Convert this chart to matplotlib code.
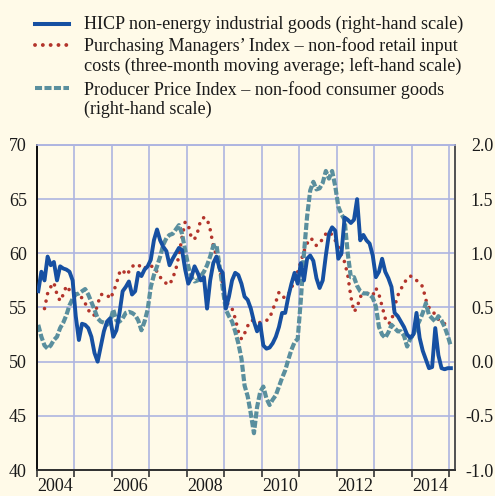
import numpy as np
import pandas as pd
import matplotlib
matplotlib.use("Agg")
import matplotlib.pyplot as plt
from matplotlib.lines import Line2D

plt.rcParams["font.family"] = ["Liberation Serif", "DejaVu Serif"]

# monthly data, Jan 2004 - Jan 2015
months = pd.date_range("2004-01-01", periods=133, freq="MS")

# HICP non-energy industrial goods (annual % change, right-hand scale)
hicp_neig = [
    0.65, 0.83, 0.75, 0.97, 0.89, 0.92, 0.75, 0.88, 0.86, 0.85, 0.83, 0.75,
    0.42, 0.20, 0.35, 0.34, 0.31, 0.23, 0.08, 0.00, 0.14, 0.28, 0.37, 0.40,
    0.23, 0.29, 0.45, 0.65, 0.69, 0.74, 0.62, 0.65, 0.82, 0.79, 0.85, 0.88,
    0.94, 1.12, 1.22, 1.12, 1.06, 1.02, 0.89, 0.95, 1.00, 1.05, 1.03, 0.85,
    0.72, 0.78, 0.88, 0.82, 0.75, 0.78, 0.49, 0.75, 0.91, 0.97, 0.86, 0.82,
    0.49, 0.60, 0.75, 0.82, 0.80, 0.72, 0.60, 0.57, 0.49, 0.37, 0.28, 0.35,
    0.15, 0.12, 0.13, 0.17, 0.23, 0.32, 0.45, 0.45, 0.60, 0.72, 0.82, 0.72,
    0.91, 0.75, 0.95, 0.98, 0.93, 0.77, 0.68, 0.75, 0.98, 1.18, 1.24, 1.21,
    0.95, 1.00, 1.33, 1.31, 1.28, 1.31, 1.50, 1.12, 1.17, 1.12, 1.09, 0.98,
    0.78, 0.83, 0.95, 0.83, 0.77, 0.69, 0.45, 0.42, 0.37, 0.32, 0.25, 0.22,
    0.25, 0.45, 0.22, 0.10, 0.02, -0.06, -0.05, 0.31, 0.06, -0.06, -0.07, -0.06, -0.06,
]

# PMI non-food retail input costs, 3-month moving average (left-hand scale)
pmi_retail = [
    np.nan, np.nan, 54.9, 56.3, 56.9, 57.3, 56.2, 55.6, 56.2, 57.0, 56.6, 56.5,
    56.2, 56.0, 55.9, 55.4, 54.8, 54.3, 54.3, 55.3, 56.2, 56.2, 56.2, 55.8,
    56.4, 57.2, 58.2, 58.5, 58.0, 58.3, 58.8, 58.9, 59.0, 58.6, 58.6, 58.9,
    58.8, 58.8, 58.3, 57.8, 57.5, 57.2, 57.1, 57.7, 58.5, 59.8, 61.5, 62.9,
    62.6, 61.4, 61.3, 62.0, 63.1, 63.3, 63.2, 62.2, 60.7, 59.8, 58.6, 57.2,
    55.7, 55.1, 54.9, 54.0, 52.8, 52.1, 52.6, 53.3, 53.8, 53.8, 53.7, 53.6,
    53.7, 53.8, 54.0, 54.8, 55.5, 56.4, 56.0, 55.9, 56.2, 56.8, 57.5, 58.3,
    59.2, 60.2, 60.9, 61.4, 61.2, 60.7, 61.0, 61.3, 61.8, 62.0, 61.7, 61.2,
    60.6, 59.8, 59.2, 58.0, 56.0, 54.6, 55.0, 56.0, 56.2, 56.3, 56.3, 56.1,
    56.8, 56.2, 55.1, 54.0, 53.5, 53.7, 55.1, 56.1, 56.7, 57.2, 57.7, 57.9,
    57.8, 57.5, 57.3, 56.9, 55.7, 55.0, 54.6, 54.4, 53.9, 53.7, 53.5, 53.4, 53.2,
]

# PPI non-food consumer goods (annual % change, right-hand scale)
ppi_nonfood = [
    0.34, 0.23, 0.15, 0.12, 0.15, 0.20, 0.23, 0.31, 0.36, 0.43, 0.52, 0.58,
    0.62, 0.63, 0.65, 0.67, 0.62, 0.55, 0.48, 0.40, 0.37, 0.36, 0.34, 0.37,
    0.48, 0.38, 0.37, 0.40, 0.45, 0.46, 0.45, 0.43, 0.38, 0.29, 0.37, 0.48,
    0.69, 0.80, 0.88, 0.97, 1.08, 1.14, 1.17, 1.18, 1.22, 1.26, 1.18, 1.03,
    0.88, 0.78, 0.74, 0.75, 0.79, 0.83, 0.89, 0.97, 1.07, 1.08, 0.88, 0.68,
    0.48, 0.42, 0.37, 0.28, 0.17, 0.03, -0.22, -0.32, -0.48, -0.66, -0.42, -0.28,
    -0.23, -0.34, -0.40, -0.35, -0.31, -0.23, -0.15, -0.08, 0.02, 0.11, 0.18, 0.21,
    0.57, 1.00, 1.34, 1.58, 1.66, 1.59, 1.60, 1.65, 1.76, 1.69, 1.76, 1.62,
    1.43, 1.36, 1.31, 1.00, 0.78, 0.78, 0.70, 0.65, 0.63, 0.63, 0.62, 0.59,
    0.51, 0.32, 0.25, 0.22, 0.27, 0.34, 0.31, 0.28, 0.28, 0.24, 0.14, 0.21,
    0.25, 0.32, 0.38, 0.45, 0.54, 0.43, 0.40, 0.37, 0.42, 0.38, 0.32, 0.24, 0.14,
]

labels = [
    "HICP non-energy industrial goods (right-hand scale)",
    "Purchasing Managers\u2019 Index \u2013 non-food retail input\ncosts (three-month moving average; left-hand scale)",
    "Producer Price Index \u2013 non-food consumer goods\n(right-hand scale)",
]
year_labels = ["2004", "2006", "2008", "2010", "2012", "2014"]

# decimal year, plotted mid-month
x = months.year + (months.month - 0.5) / 12

BG = "#FFFAE8"
BLUE = "#1650A2"
RED = "#B3342B"
TEAL = "#5A8F9E"
GRID = "#AEB5E0"

fig = plt.figure(figsize=(4.95, 4.96), dpi=100, facecolor=BG)
ax = fig.add_axes([0.0741, 0.0524, 0.845, 0.6553], facecolor=BG)
ax2 = ax.twinx()

ax.plot(x, np.array(pmi_retail, dtype=float), color=RED, lw=2.6,
        linestyle=(0, (0.01, 2.1)), dash_capstyle="round", zorder=2)
ax2.plot(x, ppi_nonfood, color=TEAL, lw=3.0, linestyle=(0, (1.7, 0.55)),
         dash_capstyle="butt", zorder=2)
ax2.plot(x, hicp_neig, color=BLUE, lw=2.8, solid_joinstyle="round", zorder=3)

ax.set_xlim(2004.0, 2015.15)
ax.set_ylim(40, 70)
ax2.set_ylim(-1.0, 2.0)
ax.set_yticks(np.arange(40, 71, 5))
ax2.set_yticks(np.arange(-1.0, 2.01, 0.5))
ax2.set_yticklabels([f"{v:.1f}" for v in np.arange(-1.0, 2.01, 0.5)])

ax.set_xticks(np.arange(2004, 2016))
ax.set_xticklabels([])
ax.set_xticks([int(y) + 0.5 for y in year_labels], minor=True)
ax.set_xticklabels(year_labels, minor=True)

ax.grid(True, which="major", color=GRID, lw=1.2)
ax.set_axisbelow(True)

ax.tick_params(axis="x", which="major", length=5, width=1.2, color="#333333", direction="out")
ax.tick_params(axis="x", which="minor", length=0, pad=6, labelsize=13, labelcolor="#1a1a1a")
ax.tick_params(axis="y", length=0, pad=7, labelsize=13, labelcolor="#1a1a1a")
ax2.tick_params(axis="y", length=0, pad=27.5, labelsize=13, labelcolor="#1a1a1a")
for t in ax2.get_yticklabels():
    t.set_horizontalalignment("right")

for a in (ax, ax2):
    a.spines["top"].set_color(GRID)
    a.spines["top"].set_linewidth(1.2)
    a.spines["left"].set_color("#111111")
    a.spines["left"].set_linewidth(1.4)
    a.spines["right"].set_color("#555555")
    a.spines["right"].set_linewidth(1.4)
    a.spines["bottom"].set_color("#333333")
    a.spines["bottom"].set_linewidth(1.4)

# legend drawn by hand so the key sits beside the first text line
W, H = 495, 496
handles = [
    dict(color=BLUE, lw=2.9, linestyle="-"),
    dict(color=RED, lw=2.8, linestyle=(0, (0.01, 2.0)), dash_capstyle="round"),
    dict(color=TEAL, lw=2.9, linestyle=(0, (1.75, 0.6)), dash_capstyle="butt"),
]
key_y = [24, 45, 88]
text_y = [24, 56, 99.5]
for style, ky, ty, lab in zip(handles, key_y, text_y, labels):
    fig.add_artist(Line2D([35 / W, 69 / W], [1 - ky / H, 1 - ky / H],
                          transform=fig.transFigure, **style))
    fig.text(84 / W, 1 - ty / H, lab, fontsize=13.1, va="center", ha="left",
             color="#1a1a1a", linespacing=1.18)

fig.savefig("out.png", dpi=100, facecolor=BG)
